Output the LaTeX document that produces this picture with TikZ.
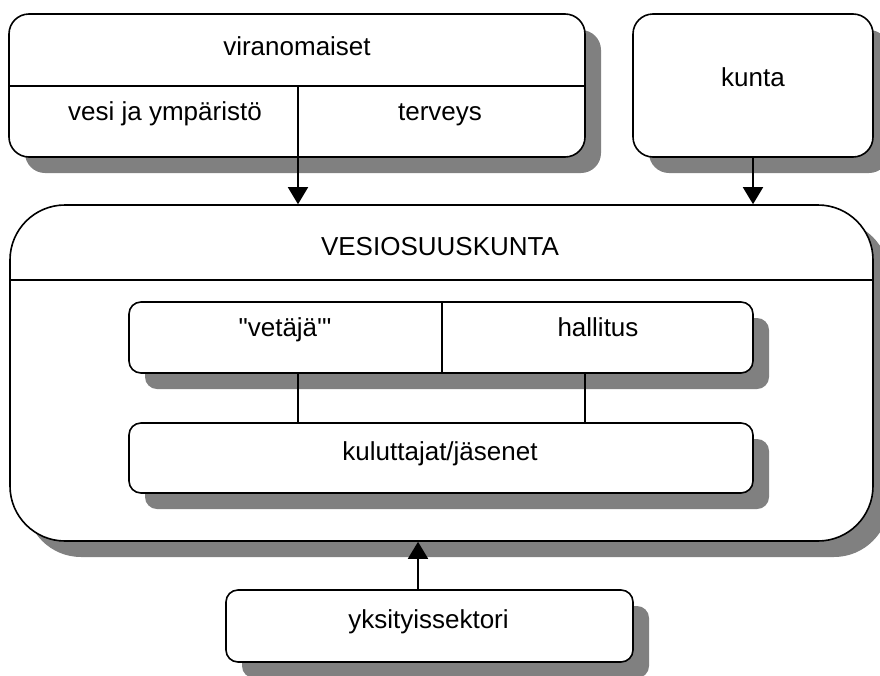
\documentclass[tikz,border=0pt]{standalone}
\usepackage{fontspec}
\setmainfont{Liberation Sans}[Ligatures=TeXOff]
\usetikzlibrary{arrows.meta,shadows}
\definecolor{shadowgray}{HTML}{808080}
\begin{document}
\begin{tikzpicture}[x=1pt,y=-1pt,
  line/.style={draw=black,line width=1.6pt},
  box/.style={line,fill=white,rounded corners=20pt,inner sep=0pt,
    drop shadow={shadow xshift=16pt,shadow yshift=-16pt,fill=shadowgray,opacity=1}},
  lbl/.style={anchor=base,inner sep=0pt,font=\fontsize{26}{30}\selectfont},
  arr/.style={line,-{Triangle[width=20pt,length=17pt]}}]
\useasboundingbox (0,0) rectangle (880,675);

% authorities and municipality
\node[box,minimum width=576pt,minimum height=143pt] (vir) at (297,85.5) {};
\node[box,minimum width=240pt,minimum height=143pt] (kun) at (753,85.5) {};
\coordinate (virsplit) at (298,86);
\draw[line] (vir.west |- virsplit) -- (vir.east |- virsplit);
\node[lbl] (virt) at (297,55) {viranomaiset};
\node[lbl] (vesit) at (165,120) {vesi ja ympäristö};
\node[lbl] (tervt) at (440,120) {terveys};
\node[lbl] (kunt) at (753,86) {kunta};

% the water cooperative
\node[box,rounded corners=55pt,minimum width=863pt,minimum height=336pt] (ves) at (441.5,373) {};
\coordinate (vessplit) at (0,280);
\draw[line] (ves.west |- vessplit) -- (ves.east |- vessplit);
\node[lbl] (vest) at (440,255) {VESIOSUUSKUNTA};

\node[box,rounded corners=12pt,minimum width=624pt,minimum height=71pt] (lead) at (441,337.5) {};
\coordinate (leadsplit) at (442,0);
\draw[line] (leadsplit |- lead.north) -- (leadsplit |- lead.south);
\node[lbl] (vetajat) at (285,336) {"vetäjä'"};
\node[lbl] (hallt) at (598,336) {hallitus};

\node[box,rounded corners=12pt,minimum width=624pt,minimum height=70pt] (kul) at (441,458) {};
\node[lbl] (kult) at (440,460) {kuluttajat/jäsenet};

\coordinate (linka) at (298,0);
\coordinate (linkb) at (585,0);
\draw[line] (linka |- lead.south) -- (linka |- kul.north);
\draw[line] (linkb |- lead.south) -- (linkb |- kul.north);

% private sector
\node[box,rounded corners=12pt,minimum width=407pt,minimum height=72pt] (yks) at (429.5,626) {};
\node[lbl] (ykst) at (428.5,628) {yksityissektori};

% arrows
\draw[arr] (virsplit) -- (virsplit |- ves.north);
\draw[arr] (kun.south) -- (kun.south |- ves.north);
\coordinate (yksx) at (418,0);
\draw[arr] (yksx |- yks.north) -- (yksx |- ves.south);
\end{tikzpicture}
\end{document}
